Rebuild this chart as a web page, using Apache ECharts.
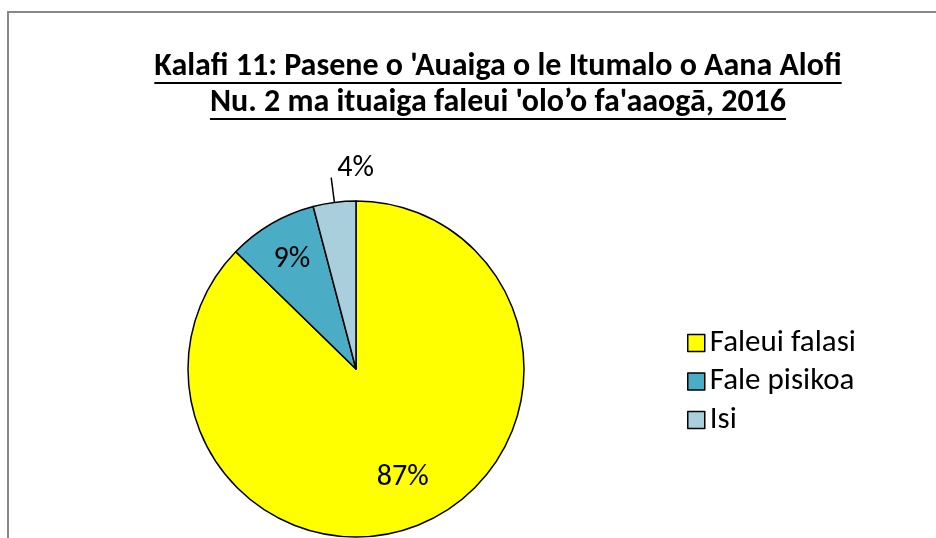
<!DOCTYPE html>
<html>
<head>
<meta charset="utf-8">
<script src="https://cdn.jsdelivr.net/npm/echarts@6/dist/echarts.min.js"></script>
<style>html,body{margin:0;padding:0;background:#fff;}#c{width:936px;height:538px;}</style>
</head>
<body>
<div id="c"></div>
<script>
const titleLines = ["Kalafi 11: Pasene o 'Auaiga o le Itumalo o Aana Alofi", "Nu. 2 ma ituaiga faleui 'olo’o fa'aaogā, 2016"];
const categories = ["Faleui falasi", "Fale pisikoa", "Isi"];
const values = [87.3, 8.6, 4.1];
const colors = ["#FFFF00", "#4BACC6", "#A9CFDD"];

const FONT = "Carlito, 'Liberation Sans Narrow', 'DejaVu Sans Condensed', sans-serif";
const chart = echarts.init(document.getElementById('c'));

function textWidth(txt, size, weight) {
  const cv = document.createElement('canvas').getContext('2d');
  cv.font = weight + ' ' + size + 'px ' + FONT;
  return cv.measureText(txt).width;
}
const titleSize = 32;
const titleCx = 498;
const lineYs = [67, 103];
const graphics = [{
  type: 'rect', shape: {x: 8, y: 12, width: 940, height: 540},
  style: {fill: 'none', stroke: '#888888', lineWidth: 2}, silent: true, z: -1
}];
titleLines.forEach((t, i) => {
  const w = textWidth(t, titleSize, 'bold');
  graphics.push({type: 'text', x: titleCx, y: lineYs[i], style: {text: t, font: 'bold ' + titleSize + 'px ' + FONT, fill: '#000', align: 'center', verticalAlign: 'middle'}, silent: true});
  graphics.push({type: 'line', shape: {x1: titleCx - w / 2, y1: lineYs[i] + 16, x2: titleCx + w / 2, y2: lineYs[i] + 16}, style: {stroke: '#000', lineWidth: 2}, silent: true});
});

const data = categories.map((n, i) => ({name: n, value: values[i], itemStyle: {color: colors[i]}}));
const labelData = categories.map((n, i) => ({
  name: n, value: values[i],
  label: i === 2 ? {position: 'outside'} : {position: 'inside'},
  labelLine: {show: i === 2}
}));

chart.setOption({
  animation: false,
  graphic: graphics,
  legend: {
    orient: 'vertical', left: 682, top: 319,
    icon: 'rect',
    itemWidth: 17, itemHeight: 17, itemGap: 0.5,
    data: categories,
    itemStyle: {borderColor: '#000', borderWidth: 1.5},
    textStyle: {fontFamily: FONT, fontSize: 31, color: '#000', lineHeight: 38, padding: [0, 0, 0, 0]}
  },
  series: [{
    type: 'pie', center: [356, 369], radius: 168, startAngle: 90, clockwise: true,
    label: {show: false}, labelLine: {show: false},
    itemStyle: {borderColor: '#000', borderWidth: 1.5},
    emphasis: {disabled: true},
    data: data
  }, {
    type: 'pie', center: [356, 369], radius: [77, 168], startAngle: 90, clockwise: true, silent: true,
    itemStyle: {color: 'rgba(0,0,0,0)', borderWidth: 0},
    label: {show: true, color: '#000', fontFamily: FONT, fontSize: 30,
      formatter: p => Math.round(p.value) + '%'},
    labelLine: {length: 25, length2: 0, lineStyle: {color: '#000', width: 1.5}},
    labelLayout: p => p.dataIndex === 2 ? {align: 'left', dx: 11, dy: -9}
      : (p.dataIndex === 0 ? {dx: -2, dy: -7} : {dx: -1, dy: -1}),
    emphasis: {disabled: true},
    data: labelData
  }]
});
</script>
</body>
</html>
